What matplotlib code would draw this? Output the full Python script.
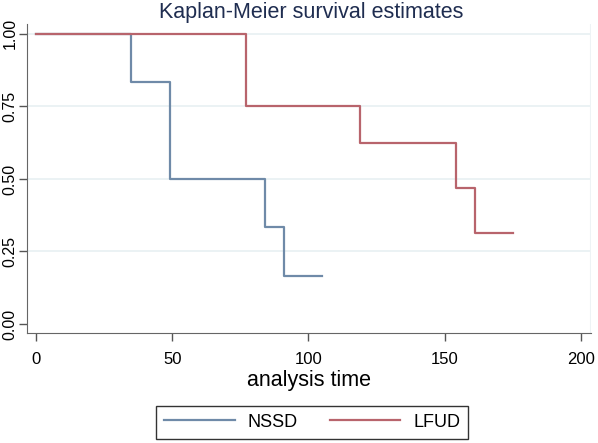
import matplotlib.pyplot as plt

plt.rcParams['font.family'] = ['Liberation Sans', 'DejaVu Sans']

# step data (time, survival)
nssd_time = [0, 35, 49, 84, 91, 105]
nssd_surv = [1.0, 0.8333, 0.5, 0.3333, 0.1667, 0.1667]
lfud_time = [0, 77, 119, 154, 161, 175]
lfud_surv = [1.0, 0.75, 0.625, 0.46875, 0.3125, 0.3125]

xticks = [0, 50, 100, 150, 200]
yticks = [0.0, 0.25, 0.5, 0.75, 1.0]
ytick_labels = ['0.00', '0.25', '0.50', '0.75', '1.00']

fig = plt.figure(figsize=(5.98, 4.43), dpi=100)
ax = fig.add_axes([0.0452, 0.2483, 0.943, 0.6975])

blue = '#6f8aa8'
red = '#b8646c'

ax.step(nssd_time, nssd_surv, where='post', color=blue, lw=1.6, label='NSSD')
ax.step(lfud_time, lfud_surv, where='post', color=red, lw=1.6, label='LFUD')

ax.set_xlim(-3.3, 203.7)
ax.set_ylim(-0.031, 1.034)
ax.set_xticks(xticks)
ax.set_yticks(yticks)
ax.set_yticklabels(ytick_labels, rotation=90, va='center')
ax.tick_params(axis='both', length=6, width=1, color='#555555')
ax.tick_params(axis='x', labelsize=12, pad=8)
ax.tick_params(axis='y', labelsize=11.5, pad=1)

for y in yticks[1:]:
    ax.axhline(y, color='#e8f0f2', lw=1.2, zorder=0)
ax.axvline(203.7, color='#eef3f5', lw=1.5, zorder=0)

ax.spines['top'].set_visible(False)
ax.spines['right'].set_visible(False)
ax.spines['left'].set_color('#666666')
ax.spines['bottom'].set_color('#666666')

ax.set_xlabel('analysis time', fontsize=15.5, labelpad=2)
fig.text(0.52, 0.972, 'Kaplan-Meier survival estimates', ha='center', va='center',
         fontsize=15.5, color='#1f2d50')

fig.legend(loc='center', bbox_to_anchor=(0.522, 0.047), ncol=2, fontsize=13,
           frameon=True, fancybox=False, edgecolor='black', handlelength=3.9,
           columnspacing=1.8, borderpad=0.45, handletextpad=0.7)

plt.savefig('out.png', dpi=100)
